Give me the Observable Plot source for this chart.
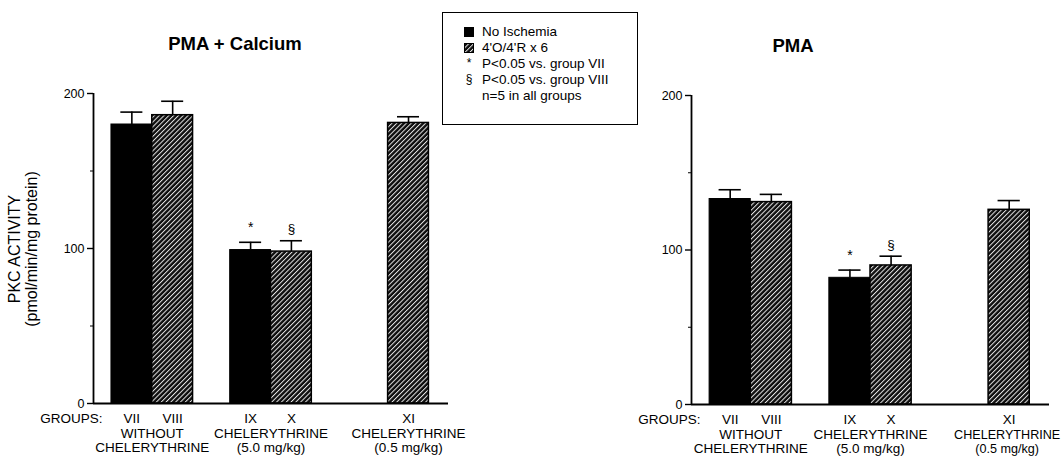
<!DOCTYPE html>
<html>
<head>
<meta charset="utf-8">
<script src="https://cdn.jsdelivr.net/npm/d3@7"></script>
<script src="https://cdn.jsdelivr.net/npm/@observablehq/plot@0.6"></script>
<style>
  html, body { margin: 0; padding: 0; background: #fff; }
  #chart { position: relative; width: 1064px; height: 457px; overflow: hidden; font-family: "Liberation Sans", Arial, Helvetica, sans-serif; color: #000; }
  .panel { position: absolute; top: 0; }
  .title { position: absolute; font-weight: bold; font-size: 18.5px; line-height: 18.5px; white-space: nowrap; transform: translateX(-50%); }
  #legend { position: absolute; left: 442px; top: 12px; width: 196px; height: 113px; box-sizing: border-box; border: 1.2px solid #000; padding-top: 11px; font-size: 13.5px; }
  .lrow { position: relative; height: 15.8px; display: flex; align-items: center; white-space: nowrap; }
  .lsym { position: absolute; left: 19px; width: 14px; text-align: center; display: flex; justify-content: center; align-items: center; font-size: 12px; }
  .ltext { position: absolute; left: 39px; }
  .sq { width: 10px; height: 10px; background: #000; }
</style>
</head>
<body>
<div id="chart"></div>
<script>
// ---- data ----
const groups = ["VII", "VIII", "IX", "X", "XI"];
const treatments = ["No Ischemia", "4'O/4'R x 6", "No Ischemia", "4'O/4'R x 6", "4'O/4'R x 6"];
const pmaCalciumMean = [180, 186, 99, 98, 181];
const pmaCalciumSem = [8, 9, 5, 7, 4];
const pmaMean = [133, 131, 82, 90, 126];
const pmaSem = [6, 5, 5, 6, 6];
const significance = ["", "", "*", "§", ""];
const clusterLabels = ["WITHOUT\nCHELERYTHRINE", "CHELERYTHRINE\n(5.0 mg/kg)", "CHELERYTHRINE\n(0.5 mg/kg)"];
const clusterMembers = [["VII", "VIII"], ["IX", "X"], ["XI"]];
const yTicks = [0, 100, 200];
const yMinorTicks = [50, 150];
const panelTitles = ["PMA + Calcium", "PMA"];
const yLabelLines = ["PKC ACTIVITY", "(pmol/min/mg protein)"];
const legendLabels = ["No Ischemia", "4'O/4'R x 6", "P<0.05 vs. group VII", "P<0.05 vs. group VIII", "n=5 in all groups"];
const legendSymbols = ["solid", "hatch", "*", "§", ""];

// ---- layout (bar-width units along x) ----
const slotStart = {VII: 0.44, VIII: 1.44, IX: 3.35, X: 4.35, XI: 7.22};
const xMax = 8.7;
const capHalf = 0.27;
const FONT = "Liberation Sans, Arial, Helvetica, sans-serif";

function hatchDefs(id) {
  return () => {
    const defs = document.createElementNS("http://www.w3.org/2000/svg", "defs");
    defs.innerHTML = `<pattern id="${id}" patternUnits="userSpaceOnUse" width="3.4" height="3.4" patternTransform="rotate(45)">
      <rect width="3.4" height="3.4" fill="#0d0d0d"></rect>
      <rect x="0" width="1" height="3.4" fill="#e6e6e6"></rect></pattern>`;
    return defs;
  };
}

function panel({mean, sem, id, width, marginLeft, marginRight, marginTop, marginBottom, groupsDx, lastClusterSize, lastClusterDx}) {
  const rows = groups.map((g, i) => ({
    group: g, treatment: treatments[i], mean: mean[i], sem: sem[i], top: mean[i] + sem[i],
    sig: significance[i], x1: slotStart[g], x2: slotStart[g] + 1, c: slotStart[g] + 0.5
  }));
  const clusters = clusterLabels.map((label, i) => ({
    label, c: d3.mean(clusterMembers[i], g => slotStart[g] + 0.5)
  }));
  return Plot.plot({
    width, height: 457, marginLeft, marginRight, marginTop, marginBottom,
    x: {domain: [0, xMax], axis: null},
    y: {domain: [0, 200]},
    style: {fontFamily: FONT, background: "transparent", overflow: "visible", color: "#000"},
    marks: [
      hatchDefs(id),
      Plot.rectY(rows.filter(d => d.treatment === treatments[0]), {x1: "x1", x2: "x2", y1: 0, y2: "mean", fill: "#000", stroke: "#000", strokeWidth: 1}),
      Plot.rectY(rows.filter(d => d.treatment !== treatments[0]), {x1: "x1", x2: "x2", y1: 0, y2: "mean", fill: `url(#${id})`, stroke: "#000", strokeWidth: 1.5}),
      Plot.ruleX(rows, {x: "c", y1: "mean", y2: "top", stroke: "#000", strokeWidth: 1.6}),
      Plot.ruleY(rows, {y: "top", x1: d => d.c - capHalf, x2: d => d.c + capHalf, stroke: "#000", strokeWidth: 1.6}),
      Plot.text(rows.filter(d => d.sig === "*"), {x: "c", y: "top", text: "sig", dy: -15, fontSize: 14, fill: "#000"}),
      Plot.text(rows.filter(d => d.sig === "§"), {x: "c", y: "top", text: "sig", dy: -12, fontSize: 13.5, fill: "#000"}),
      Plot.ruleX([0], {y1: 0, y2: 200, stroke: "#000", strokeWidth: 1.8}),
      Plot.ruleY([0], {x1: 0, x2: xMax, stroke: "#000", strokeWidth: 1.8}),
      Plot.axisY({ticks: yTicks, tickSize: 6, tickPadding: 3, label: null, fontSize: 12.5, stroke: "#000", strokeWidth: 1.4, fill: "#000"}),
      Plot.axisY({ticks: yMinorTicks, tickSize: 3, tickFormat: () => "", label: null, stroke: "#000", strokeWidth: 1}),
      Plot.text(rows, {x: "c", y: 0, text: "group", dy: 15, fontSize: 13.5, fill: "#000"}),
      Plot.text(clusters.slice(0, -1), {x: "c", y: 0, text: "label", dy: 25, lineAnchor: "top", lineHeight: 1, fontSize: 13.5, fill: "#000"}),
      Plot.text(clusters.slice(-1), {x: "c", y: 0, text: "label", dx: lastClusterDx, dy: 25, lineAnchor: "top", lineHeight: 13.5 / lastClusterSize, fontSize: lastClusterSize, fill: "#000"}),
      Plot.text(["GROUPS:"], {frameAnchor: "bottom-left", text: d => d, textAnchor: "end", lineAnchor: "middle", dx: groupsDx, dy: 15, fontSize: 13.5, fill: "#000"})
    ]
  });
}

const chart = document.getElementById("chart");

const left = panel({mean: pmaCalciumMean, sem: pmaCalciumSem, id: "hatchL", width: 470, marginLeft: 93, marginRight: 22, marginTop: 93, marginBottom: 54, groupsDx: 9, lastClusterSize: 13.5, lastClusterDx: 0});
left.classList.add("panel"); left.style.left = "0px";
chart.appendChild(left);
// y axis title inside left panel
d3.select(left).append("g")
  .attr("font-family", FONT).attr("font-size", 16).attr("text-anchor", "middle")
  .selectAll("text").data(yLabelLines).join("text")
  .attr("transform", (d, i) => `translate(${[14, 31][i]},249) rotate(-90)`)
  .attr("dy", "0.35em").text(d => d);

const right = panel({mean: pmaMean, sem: pmaSem, id: "hatchR", width: 464, marginLeft: 91, marginRight: 15, marginTop: 95, marginBottom: 53, groupsDx: 9, lastClusterSize: 12.6, lastClusterDx: -2});
right.classList.add("panel"); right.style.left = "600px";
chart.appendChild(right);

// titles
[[235, 51], [793, 53]].forEach(([cx, base], i) => {
  const t = document.createElement("div");
  t.className = "title";
  t.textContent = panelTitles[i];
  t.style.left = cx + "px";
  t.style.top = (base - 15.6) + "px";
  chart.appendChild(t);
});

// legend
const legend = document.createElement("div");
legend.id = "legend";
legendLabels.forEach((label, i) => {
  const row = document.createElement("div");
  row.className = "lrow";
  const sym = document.createElement("div");
  sym.className = "lsym";
  const s = legendSymbols[i];
  if (s === "solid") {
    const b = document.createElement("div"); b.className = "sq"; sym.appendChild(b);
  } else if (s === "hatch") {
    sym.innerHTML = `<svg width="10" height="10"><defs><pattern id="hatchLeg" patternUnits="userSpaceOnUse" width="3.4" height="3.4" patternTransform="rotate(45)"><rect width="3.4" height="3.4" fill="#0d0d0d"></rect><rect width="1" height="3.4" fill="#e6e6e6"></rect></pattern></defs><rect x="0.5" y="0.5" width="9" height="9" fill="url(#hatchLeg)" stroke="#000"></rect></svg>`;
  } else {
    sym.textContent = s;
  }
  const txt = document.createElement("div");
  txt.className = "ltext";
  txt.textContent = label;
  row.appendChild(sym); row.appendChild(txt);
  legend.appendChild(row);
});
chart.appendChild(legend);
</script>
</body>
</html>
